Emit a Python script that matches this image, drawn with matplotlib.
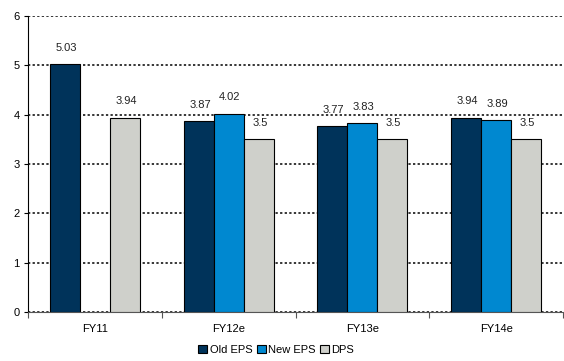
import numpy as np
import matplotlib
matplotlib.use('Agg')
import matplotlib.pyplot as plt
from matplotlib.ticker import FixedLocator, NullFormatter

plt.rcParams['font.family'] = ['Liberation Sans', 'DejaVu Sans']

years = ['FY11', 'FY12e', 'FY13e', 'FY14e']
old_eps = [5.03, 3.87, 3.77, 3.94]
new_eps = [np.nan, 4.02, 3.83, 3.89]
dps = [3.94, 3.5, 3.5, 3.5]
series_names = ['Old EPS', 'New EPS', 'DPS']
series_colors = ['#00335a', '#0088d0', '#cfd0cb']

fig = plt.figure(figsize=(5.64, 3.61), dpi=100)
ax = fig.add_axes([28 / 564, 1 - 312 / 361, 535 / 564, 296 / 361])

x = np.arange(len(years))
w = 0.224
offsets = [-w, 0, w]

for vals, name, col, off in zip([old_eps, new_eps, dps], series_names, series_colors, offsets):
    ax.bar(x + off, vals, w, color=col, edgecolor='black', linewidth=0.8, label=name, zorder=3)
    for xi, v in zip(x, vals):
        if np.isnan(v):
            continue
        ax.text(xi + off + 0.01, v + 0.33, f'{v:g}', ha='center', va='center', fontsize=8, color='#222222')

ax.set_xlim(-0.5, len(years) - 0.5)
ax.set_ylim(0, 6)
ax.set_yticks(range(0, 7))
ax.yaxis.grid(True, linestyle=(0, (1.5, 1.5)), color='black', linewidth=1.1, zorder=0)
ax.set_axisbelow(True)

# category boundaries get tick marks, names sit in between
ax.xaxis.set_major_locator(FixedLocator(np.arange(-0.5, len(years), 1.0)))
ax.xaxis.set_major_formatter(NullFormatter())
ax.xaxis.set_minor_locator(FixedLocator(x))
ax.set_xticklabels(years, minor=True)
ax.tick_params(axis='x', which='major', length=4, direction='out', color='#555555')
ax.tick_params(axis='x', which='minor', length=0, pad=9, labelsize=8)
ax.tick_params(axis='y', length=3, direction='out', labelsize=8, pad=3)

for s in ['top', 'right']:
    ax.spines[s].set_visible(False)
ax.spines['left'].set_color('black')
ax.spines['bottom'].set_color('#555555')

fig.legend(loc='center', bbox_to_anchor=(276 / 564, 1 - 350 / 361), ncol=3, frameon=False,
           fontsize=8, handlelength=0.8, handleheight=0.8, handletextpad=0.2, columnspacing=0.4,
           borderpad=0)

fig.savefig('out.png', dpi=100)
